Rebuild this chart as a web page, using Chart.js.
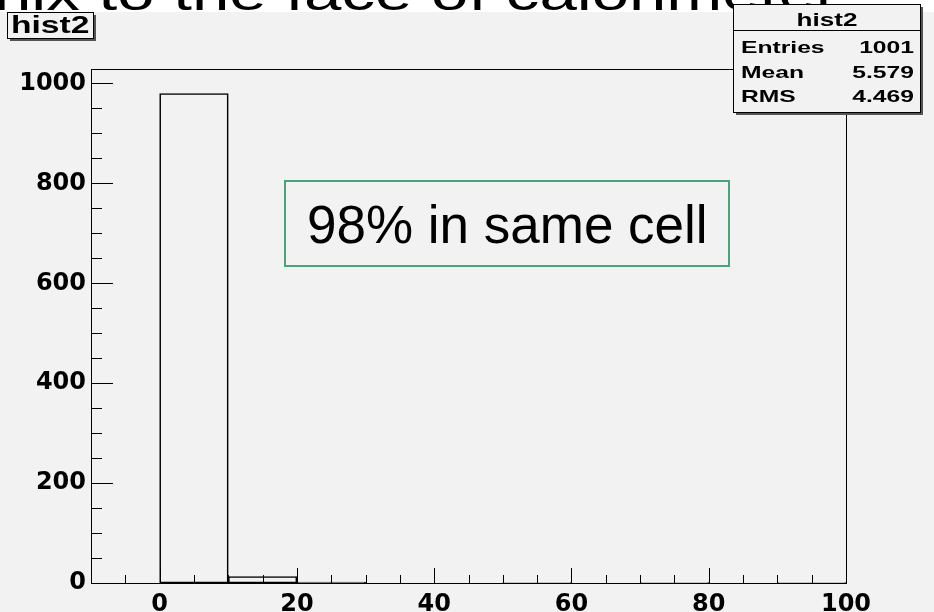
<!DOCTYPE html>
<html>
<head>
<meta charset="utf-8">
<script src="https://cdn.jsdelivr.net/npm/chart.js"></script>
<style>
  body { margin: 0; background: #f2f2f2; }
  #wrap { width: 934px; height: 612px; }
</style>
</head>
<body>
<div id="wrap"><canvas id="hist2" width="934" height="612"></canvas></div>
<script>
  // histogram bins (width 10)
  var binCenters = [-5, 5, 15, 25, 35, 45, 55, 65, 75, 85, 95];
  var binCounts = [0, 980, 13, 2, 0, 0, 1, 0, 1, 0, 1];
  var xMajorTicks = [0, 20, 40, 60, 80, 100];
  var yMajorTicks = [0, 200, 400, 600, 800, 1000];
  var xMinorStep = 5;
  var yMinorStep = 50;
  var statLabels = ['Entries', 'Mean', 'RMS'];
  var statValues = ['1001', '5.579', '4.469'];
  var histName = 'hist2';
  var pageTitle = 'nix to the face of calorimeter';
  var noteText = '98% in same cell';

  var bg = '#f2f2f2';
  var tickFont = { family: 'DejaVu Sans', weight: 'bold', size: 24 };

  // ROOT text looks stretched sideways, so draw it scaled
  function wideText(ctx, text, x, y, font, sx, align) {
    ctx.save();
    ctx.translate(x, y);
    ctx.scale(sx, 1);
    ctx.font = font;
    ctx.textAlign = align;
    ctx.textBaseline = 'alphabetic';
    ctx.fillStyle = '#000';
    ctx.fillText(text, 0, 0);
    ctx.restore();
  }

  function shadowBox(ctx, x, y, w, h) {
    ctx.fillStyle = '#555';
    ctx.fillRect(x + 3, y + 3, w, h);
    ctx.fillStyle = bg;
    ctx.fillRect(x, y, w, h);
    ctx.strokeStyle = '#000';
    ctx.lineWidth = 1;
    ctx.strokeRect(x + 0.5, y + 0.5, w, h);
  }

  var rootFrame = {
    id: 'rootFrame',
    beforeDraw: function (chart) {
      var ctx = chart.ctx;
      ctx.save();
      ctx.fillStyle = bg;
      ctx.fillRect(0, 0, chart.width, chart.height);
      ctx.fillStyle = '#fff';
      ctx.fillRect(0, 0, chart.width, 12);
      wideText(ctx, pageTitle, -6, 10, '48px "Liberation Sans"', 1.4, 'left');
      ctx.restore();
    },
    afterDatasetsDraw: function (chart) {
      var ctx = chart.ctx;
      var a = chart.chartArea;
      var xs = chart.scales.x, ys = chart.scales.y;
      ctx.save();
      ctx.strokeStyle = '#000';
      ctx.lineWidth = 1;
      ctx.strokeRect(Math.round(a.left) + 0.5, Math.round(a.top) + 0.5,
        Math.round(a.right - a.left), Math.round(a.bottom - a.top));
      ctx.beginPath();
      var v, p, len;
      for (v = ys.min + yMinorStep; v < ys.max; v += yMinorStep) {
        p = Math.round(ys.getPixelForValue(v)) + 0.5;
        len = yMajorTicks.indexOf(v) >= 0 ? 22 : 11;
        ctx.moveTo(a.left, p);
        ctx.lineTo(a.left + len, p);
      }
      for (v = xs.min + xMinorStep; v < xs.max; v += xMinorStep) {
        p = Math.round(xs.getPixelForValue(v)) + 0.5;
        len = xMajorTicks.indexOf(v) >= 0 ? 15 : 8;
        ctx.moveTo(p, a.bottom);
        ctx.lineTo(p, a.bottom - len);
      }
      ctx.stroke();
      ctx.restore();
    },
    afterDraw: function (chart) {
      var ctx = chart.ctx;
      ctx.save();
      // title box
      shadowBox(ctx, 7, 12, 86, 26);
      wideText(ctx, histName, 11, 33, 'bold 24px "Liberation Sans"', 1.4, 'left');
      // stats box
      shadowBox(ctx, 733, 4, 187, 108);
      ctx.beginPath();
      ctx.moveTo(733, 30.5);
      ctx.lineTo(920, 30.5);
      ctx.stroke();
      wideText(ctx, histName, 827, 26, 'bold 18px "Liberation Sans"', 1.45, 'center');
      var rowY = [53, 78, 102];
      for (var i = 0; i < statLabels.length; i++) {
        wideText(ctx, statLabels[i], 741, rowY[i], 'bold 17px "Liberation Sans"', 1.45, 'left');
        wideText(ctx, statValues[i], 914, rowY[i], 'bold 17px "Liberation Sans"', 1.45, 'right');
      }
      // note box
      ctx.fillStyle = bg;
      ctx.fillRect(285, 181, 444, 85);
      ctx.strokeStyle = '#4aa37a';
      ctx.lineWidth = 2;
      ctx.strokeRect(285, 181, 444, 85);
      ctx.fillStyle = '#000';
      ctx.font = '53px "Liberation Sans"';
      ctx.textAlign = 'left';
      ctx.fillText(noteText, 307, 243);
      ctx.restore();
    }
  };

  var ctx = document.getElementById('hist2').getContext('2d');
  var histChart = new Chart(ctx, {
    type: 'bar',
    data: {
      datasets: [{
        label: histName,
        data: binCenters.map(function (c, i) { return { x: c, y: binCounts[i] }; }),
        backgroundColor: 'rgba(0,0,0,0)',
        borderColor: '#000',
        borderWidth: 1,
        borderSkipped: false,
        barPercentage: 1,
        categoryPercentage: 1
      }]
    },
    options: {
      responsive: false,
      animation: false,
      layout: { padding: { top: 69, right: 88, left: 0, bottom: 0 } },
      plugins: { legend: { display: false }, tooltip: { enabled: false } },
      scales: {
        x: {
          type: 'linear',
          min: -10,
          max: 100,
          offset: false,
          grid: { display: false, drawTicks: false, tickLength: 0 },
          border: { display: false },
          ticks: {
            autoSkip: false,
            maxRotation: 0,
            padding: 7,
            color: '#000',
            font: tickFont,
            callback: function (v) { return String(v); }
          },
          afterBuildTicks: function (s) {
            s.ticks = xMajorTicks.map(function (v) { return { value: v }; });
          },
          afterFit: function (s) { s.height = 29; }
        },
        y: {
          min: 0,
          max: 1029,
          grid: { display: false, drawTicks: false, tickLength: 0 },
          border: { display: false },
          ticks: {
            autoSkip: false,
            padding: 5,
            color: '#000',
            font: tickFont,
            callback: function (v) { return String(v); }
          },
          afterBuildTicks: function (s) {
            s.ticks = yMajorTicks.map(function (v) { return { value: v }; });
          },
          afterFit: function (s) { s.width = 91; }
        }
      }
    },
    plugins: [rootFrame]
  });
</script>
</body>
</html>
